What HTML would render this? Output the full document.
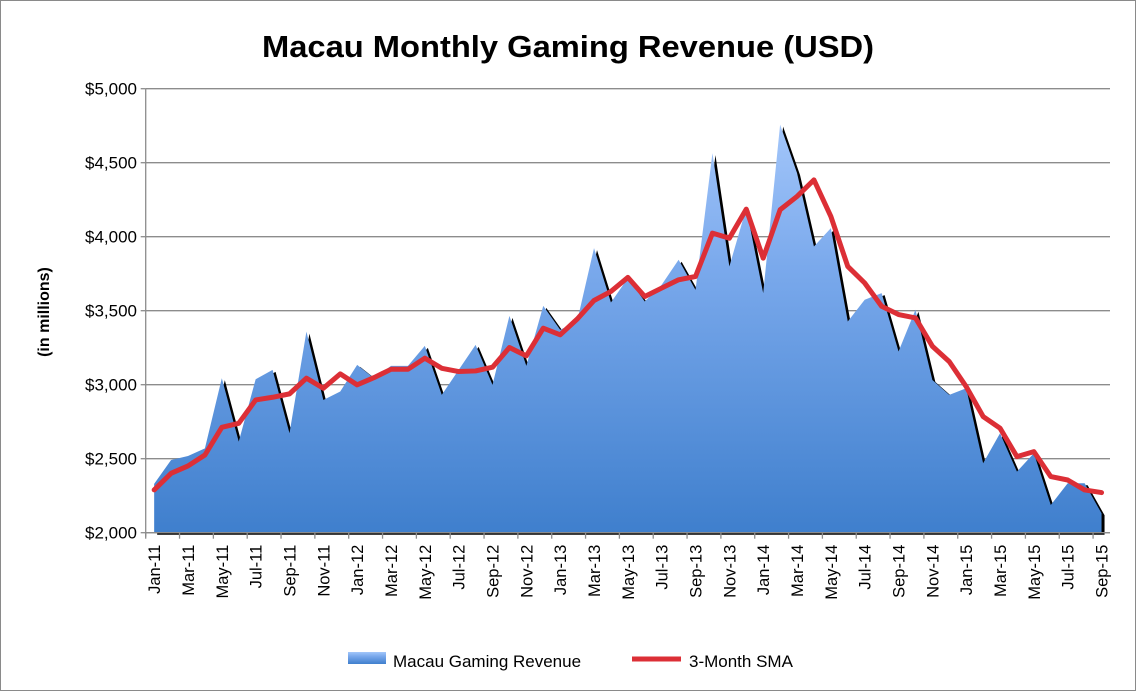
<!DOCTYPE html>
<html><head><meta charset="utf-8">
<style>
html,body{margin:0;padding:0;background:#fff;}
svg{display:block;font-family:"Liberation Sans",Arial,sans-serif;}
</style></head>
<body>
<svg id="chart" width="1136" height="691" viewBox="0 0 1136 691" xmlns="http://www.w3.org/2000/svg">
<defs>
<linearGradient id="areaGrad" x1="0" y1="0" x2="0" y2="1">
<stop offset="0" stop-color="#a3c6fa"/>
<stop offset="0.35" stop-color="#7aa9ec"/>
<stop offset="1" stop-color="#3f7fcd"/>
</linearGradient>
</defs>
<rect x="0.5" y="0.5" width="1135" height="690" fill="#fff" stroke="#8a8a8a"/>
<text x="568" y="57" text-anchor="middle" font-size="31" font-weight="bold" fill="#000" textLength="612" lengthAdjust="spacingAndGlyphs">Macau Monthly Gaming Revenue (USD)</text>
<text transform="translate(49,312) rotate(-90)" text-anchor="middle" font-size="16" font-weight="bold">(in millions)</text>
<g id="grid"></g>
<g id="series"></g>
<g id="axes"></g>
<g>
<rect x="348" y="652" width="38" height="12" fill="url(#areaGrad)"/>
<text x="393" y="667" font-size="17">Macau Gaming Revenue</text>
<line x1="632" y1="659" x2="681" y2="659" stroke="#dc2f36" stroke-width="5"/>
<text x="689" y="667" font-size="17">3-Month SMA</text>
</g>
</svg>
<script>
const months = ["Jan-11","Feb-11","Mar-11","Apr-11","May-11","Jun-11","Jul-11","Aug-11","Sep-11","Oct-11","Nov-11","Dec-11",
"Jan-12","Feb-12","Mar-12","Apr-12","May-12","Jun-12","Jul-12","Aug-12","Sep-12","Oct-12","Nov-12","Dec-12",
"Jan-13","Feb-13","Mar-13","Apr-13","May-13","Jun-13","Jul-13","Aug-13","Sep-13","Oct-13","Nov-13","Dec-13",
"Jan-14","Feb-14","Mar-14","Apr-14","May-14","Jun-14","Jul-14","Aug-14","Sep-14","Oct-14","Nov-14","Dec-14",
"Jan-15","Feb-15","Mar-15","Apr-15","May-15","Jun-15","Jul-15","Aug-15","Sep-15"];
const revenue = [2330,2491,2518,2570,3044,2615,3037,3100,2672,3359,2897,2954,
3134,3044,3127,3127,3262,2931,3100,3269,2999,3465,3127,3533,
3371,3427,3923,3555,3720,3562,3675,3844,3641,4565,3799,4193,
3619,4757,4430,3934,4058,3427,3574,3619,3224,3506,3032,2931,
2976,2469,2672,2413,2537,2187,2334,2334,2131];
const sma = [2289,2401,2451,2525,2712,2739,2897,2915,2938,3044,2976,3073,
2999,3048,3104,3104,3179,3111,3089,3093,3118,3251,3195,3382,
3337,3443,3569,3630,3725,3596,3653,3709,3731,4024,3990,4186,
3855,4182,4272,4384,4137,3799,3687,3530,3474,3451,3260,3156,
2987,2785,2706,2514,2548,2379,2356,2289,2271];
const yTicks = [2000,2500,3000,3500,4000,4500,5000];
const yTickLabels = ["$2,000","$2,500","$3,000","$3,500","$4,000","$4,500","$5,000"];

const NS="http://www.w3.org/2000/svg";
const L=145.7,R=1110,T=88.7,B=532.7,yMin=2000,yMax=5000;
const step=(R-L)/months.length;
function xPos(i){return L+(i+0.5)*step;}
function yPos(v){return B-(v-yMin)/(yMax-yMin)*(B-T);}
function mk(tag,attrs,parent){const e=document.createElementNS(NS,tag);for(const k in attrs)e.setAttribute(k,attrs[k]);parent.appendChild(e);return e;}

const grid=document.getElementById('grid'),series=document.getElementById('series'),axes=document.getElementById('axes');
yTicks.forEach((v,k)=>{
  const ln=mk('line',{x1:L,x2:R,y1:yPos(v),y2:yPos(v),stroke:'#8c8c8c','stroke-width':1.3},grid);
  
  
  const t=mk('text',{x:137,y:yPos(v)+6,'text-anchor':'end','font-size':17},axes);
  t.textContent=yTickLabels[k];
  
  
});

let d='M'+xPos(0)+','+B;
revenue.forEach((v,i)=>{d+=' L'+xPos(i)+','+yPos(v);});
d+=' L'+xPos(revenue.length-1)+','+B+' Z';
const sh=mk('path',{d:d,fill:'#000',transform:'translate(3,2)'},series);


const ar=mk('path',{d:d,fill:'url(#areaGrad)'},series);



const pts=sma.map((v,i)=>xPos(i)+','+yPos(v)).join(' ');
const pl=mk('polyline',{points:pts,fill:'none',stroke:'#dc2f36','stroke-width':5,'stroke-linejoin':'round','stroke-linecap':'round'},series);



const ax=mk('line',{x1:L,x2:L,y1:T,y2:B+4,stroke:'#8c8c8c','stroke-width':1.3},axes);


const bx=mk('line',{x1:L,x2:R,y1:B,y2:B,stroke:'#8c8c8c','stroke-width':1.3},axes);


yTicks.forEach(v=>{const tk=mk('line',{x1:L-5,x2:L,y1:yPos(v),y2:yPos(v),stroke:'#8c8c8c','stroke-width':1.3},axes);

});
for(let i=0;i<=months.length;i+=2){
  const x=L+i*step;
  const tk=mk('line',{x1:x,x2:x,y1:B,y2:B+6,stroke:'#8c8c8c','stroke-width':1.3},axes);
  
  
}
months.forEach((m,i)=>{
  if(i%2!==0)return;
  const x=xPos(i)+6;
  const t=mk('text',{transform:'translate('+x+','+(B+12)+') rotate(-90)','text-anchor':'end','font-size':16.5},axes);
  t.textContent=m;
  
  
});
</script>
</body></html>
